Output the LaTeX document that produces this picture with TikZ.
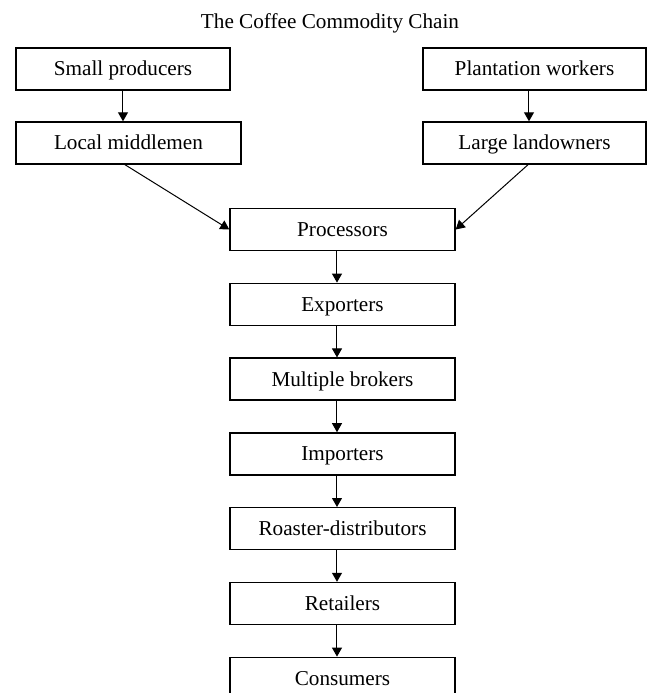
\documentclass[tikz,border=0pt]{standalone}
\usepackage{fontspec}
\setmainfont{Liberation Serif}
\usetikzlibrary{arrows.meta, positioning}

\begin{document}
\begin{tikzpicture}[x=1pt, y=1pt, >={Triangle[length=4.5pt, width=5pt]}]
    \tikzstyle{chainbox}=[draw, line width=0.7pt, minimum width=112.5pt, minimum height=21pt
    , inner sep=0pt, text height=8.2pt, text depth=1.3pt, font=\fontsize{10.6}{12}\selectfont]
    \tikzstyle{flow}=[->, line width=0.5pt]
    \useasboundingbox (0,0) rectangle (323.5,-346.5);

    \node[font=\fontsize{10.6}{12}\selectfont] (title) at (165,-11.5) {The Coffee Commodity Chain};
    \node[chainbox, minimum width=107pt] (small) at (61.5,-34.5) {Small producers};
    \node[chainbox, below=15.3pt of small.south west, anchor=north west] (local) {Local middlemen};
    \node[chainbox, minimum width=111.5pt] (plantation) at (267.25,-34.5) {Plantation workers};
    \node[chainbox, minimum width=111.5pt, below=15.3pt of plantation] (landowners) {Large landowners};
    \node[chainbox] (processors) at (171.25,-114.75) {Processors};
    \node[chainbox, below=15.7pt of processors] (exporters) {Exporters};
    \node[chainbox, below=15.7pt of exporters] (brokers) {Multiple brokers};
    \node[chainbox, below=15.7pt of brokers] (importers) {Importers};
    \node[chainbox, below=15.7pt of importers] (roasters) {Roaster-distributors};
    \node[chainbox, below=15.7pt of roasters] (retailers) {Retailers};
    \node[chainbox, below=15.7pt of retailers] (consumers) {Consumers};

    % arrows
    \draw[flow] (small.south) -- (small.south |- local.north);
    \draw[flow] ([xshift=-2.75pt]plantation.south) -- ([xshift=-2.75pt]landowners.north);
    \draw[flow] ([xshift=-1.75pt]local.south) -- (processors.west);
    \draw[flow] ([xshift=-3.25pt]landowners.south) -- (processors.east);
    \foreach \from/\to in {processors/exporters, exporters/brokers, brokers/importers,
        importers/roasters, roasters/retailers, retailers/consumers}
        \draw[flow] ([xshift=-2.75pt]\from.south) -- ([xshift=-2.75pt]\to.north);

\end{tikzpicture}
\end{document}
